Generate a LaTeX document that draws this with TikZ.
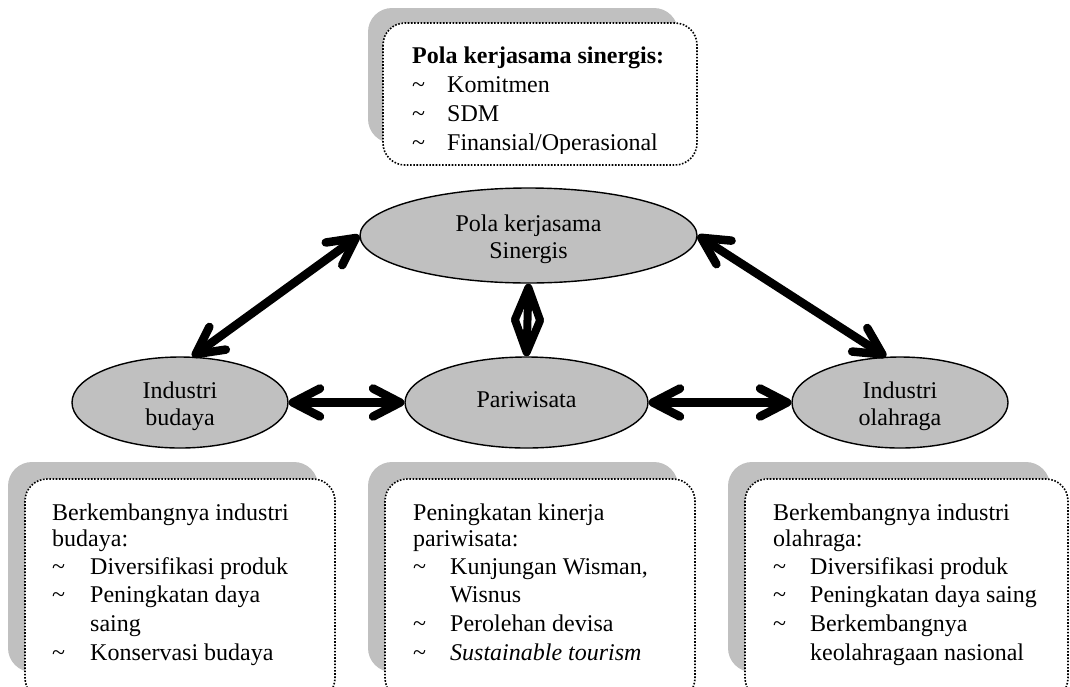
\documentclass[tikz,border=0pt]{standalone}
\usepackage{fontspec}
\setmainfont{Liberation Serif}
\usetikzlibrary{arrows.meta,shapes.geometric}
\definecolor{silver}{HTML}{C0C0C0}

\tikzset{
  oval/.style={ellipse, draw, line width=1.4pt, fill=silver, inner sep=0pt,
    align=center, font=\fontsize{24}{27}\selectfont},
  shadowbox/.style={fill=silver, rounded corners=24pt},
  notebox/.style={fill=white, draw, line width=1.6pt,
    dash pattern=on 1.6pt off 1.6pt, rounded corners=22pt},
  txt/.style={anchor=base west, inner sep=0pt, font=\fontsize{24}{27}\selectfont},
  barbs/.style={line width=8.5pt,
    {Straight Barb[round,length=27pt,width=28pt]}-{Straight Barb[round,length=27pt,width=28pt]}},
  bigbarbs/.style={line width=8pt,
    {Straight Barb[round,length=32pt,width=25pt]}-{Straight Barb[round,length=32pt,width=25pt]}}
}
\newcommand{\tl}{\textasciitilde}
\newcommand{\upstrut}{\rule{0pt}{25pt}}

\begin{document}
\begin{tikzpicture}[x=1pt,y=-1pt]
\useasboundingbox (0,0) rectangle (1070,686);
\clip (0,0) rectangle (1070,686);

% ---- top note box ----
\fill[shadowbox] (368,8) rectangle (678,143);
\draw[notebox] (383,23) rectangle (697,165);
\begin{scope}
\clip (383,23) rectangle (697,153);
\node[txt, font=\fontsize{24}{27}\selectfont\bfseries] (th) at (412,63) {Pola kerjasama sinergis:};
\node[txt] (tb1) at (412,92) {\tl};  \node[txt] (ti1) at (447,92) {Komitmen};
\node[txt] (tb2) at (412,121) {\tl}; \node[txt] (ti2) at (447,121) {SDM};
\node[txt] (tb3) at (412,150) {\tl}; \node[txt] (ti3) at (447,150) {Finansial/Operasional};
\end{scope}

% ---- ellipses ----
\node[oval, minimum width=337pt, minimum height=95pt] (pola) at (528.5,235.5) {\upstrut Pola kerjasama\\Sinergis};
\node[oval, minimum width=216pt, minimum height=91pt] (budaya) at (180,402.5) {\upstrut Industri\\budaya};
\node[oval, minimum width=243pt, minimum height=91pt] (wisata) at (526.5,402.5) {\rule[-6pt]{0pt}{6pt}Pariwisata};
\node[oval, minimum width=216pt, minimum height=91pt] (olah) at (900,402.5) {\upstrut Industri\\olahraga};

% ---- connectors ----
\draw[barbs] (pola.west) -- (budaya.75);
\draw[barbs] (pola.east) -- (olah.107);
\draw[barbs] (budaya.east) -- (wisata.west);
\draw[barbs] (wisata.east) -- (olah.west);
\draw[bigbarbs] (pola.south) -- (wisata.north);

% ---- bottom note boxes ----
\fill[shadowbox] (8,462) rectangle (318,672);
\draw[notebox] (25,479) rectangle (335,700);
\fill[shadowbox] (368,462) rectangle (678,672);
\draw[notebox] (385,479) rectangle (695,700);
\fill[shadowbox] (728,462) rectangle (1050,672);
\draw[notebox] (745,479) rectangle (1068,700);

% left box: culture industry
\node[txt] (lh1) at (52,520) {Berkembangnya industri};
\node[txt] (lh2) at (52,546) {budaya:};
\node[txt] (lb1) at (52,574) {\tl}; \node[txt] (li1) at (90,574) {Diversifikasi produk};
\node[txt] (lb2) at (52,602) {\tl}; \node[txt] (li2) at (90,602) {Peningkatan daya};
\node[txt] (li2b) at (90,631) {saing};
\node[txt] (lb3) at (52,660) {\tl}; \node[txt] (li3) at (90,660) {Konservasi budaya};

% middle box: tourism
\node[txt] (mh1) at (413,520) {Peningkatan kinerja};
\node[txt] (mh2) at (413,546) {pariwisata:};
\node[txt] (mb1) at (413,574) {\tl}; \node[txt] (mi1) at (450,574) {Kunjungan Wisman,};
\node[txt] (mi1b) at (450,602) {Wisnus};
\node[txt] (mb2) at (413,631) {\tl}; \node[txt] (mi2) at (450,631) {Perolehan devisa};
\node[txt] (mb3) at (413,660) {\tl}; \node[txt] (mi3) at (450,660) {\textit{Sustainable tourism}};

% right box: sports industry
\node[txt] (rh1) at (773,520) {Berkembangnya industri};
\node[txt] (rh2) at (773,546) {olahraga:};
\node[txt] (rb1) at (773,574) {\tl}; \node[txt] (ri1) at (810,574) {Diversifikasi produk};
\node[txt] (rb2) at (773,602) {\tl}; \node[txt] (ri2) at (810,602) {Peningkatan daya saing};
\node[txt] (rb3) at (773,631) {\tl}; \node[txt] (ri3) at (810,631) {Berkembangnya};
\node[txt] (ri3b) at (810,660) {keolahragaan nasional};
\end{tikzpicture}
\end{document}
